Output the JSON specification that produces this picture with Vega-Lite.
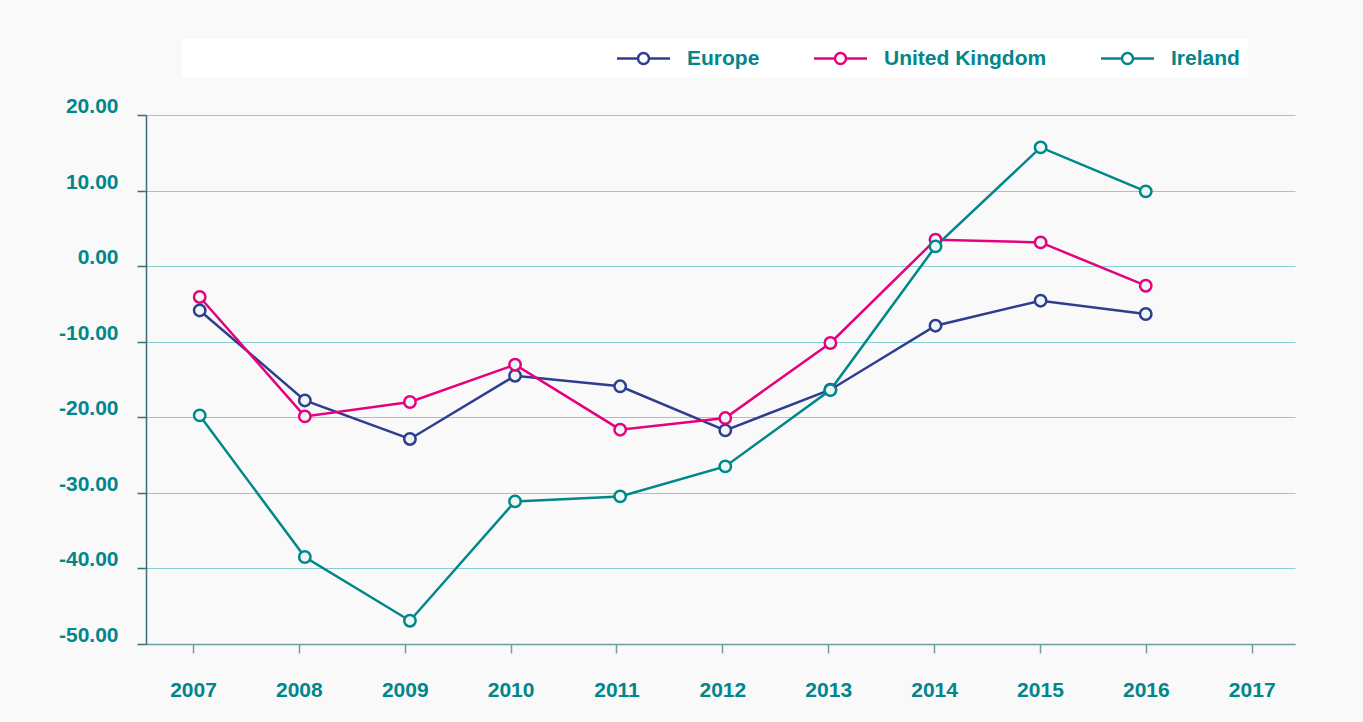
{
  "$schema": "https://vega.github.io/schema/vega-lite/v6.json",
  "width": 1149,
  "height": 529,
  "autosize": {"type": "none"},
  "padding": {"left": 146, "top": 115, "right": 68, "bottom": 78},
  "background": "#f9f9f9",
  "config": {
    "view": {"stroke": null},
    "font": "Liberation Sans",
    "locale": {"number": {"decimal": ".", "thousands": ",", "grouping": [3], "currency": ["$", ""], "minus": "-"}}
  },
  "data": {
    "values": [
      {"year": 2007, "region": "Europe", "value": -5.86},
      {"year": 2008, "region": "Europe", "value": -17.77},
      {"year": 2009, "region": "Europe", "value": -22.87},
      {"year": 2010, "region": "Europe", "value": -14.5},
      {"year": 2011, "region": "Europe", "value": -15.9},
      {"year": 2012, "region": "Europe", "value": -21.73},
      {"year": 2013, "region": "Europe", "value": -16.35},
      {"year": 2014, "region": "Europe", "value": -7.88},
      {"year": 2015, "region": "Europe", "value": -4.57},
      {"year": 2016, "region": "Europe", "value": -6.33},
      {"year": 2007, "region": "United Kingdom", "value": -4.08},
      {"year": 2008, "region": "United Kingdom", "value": -19.88},
      {"year": 2009, "region": "United Kingdom", "value": -17.98},
      {"year": 2010, "region": "United Kingdom", "value": -13.04},
      {"year": 2011, "region": "United Kingdom", "value": -21.64},
      {"year": 2012, "region": "United Kingdom", "value": -20.1},
      {"year": 2013, "region": "United Kingdom", "value": -10.17},
      {"year": 2014, "region": "United Kingdom", "value": 3.5},
      {"year": 2015, "region": "United Kingdom", "value": 3.14},
      {"year": 2016, "region": "United Kingdom", "value": -2.59},
      {"year": 2007, "region": "Ireland", "value": -19.75},
      {"year": 2008, "region": "Ireland", "value": -38.49},
      {"year": 2009, "region": "Ireland", "value": -46.92},
      {"year": 2010, "region": "Ireland", "value": -31.13},
      {"year": 2011, "region": "Ireland", "value": -30.47},
      {"year": 2012, "region": "Ireland", "value": -26.5},
      {"year": 2013, "region": "Ireland", "value": -16.4},
      {"year": 2014, "region": "Ireland", "value": 2.61},
      {"year": 2015, "region": "Ireland", "value": 15.71},
      {"year": 2016, "region": "Ireland", "value": 9.9}
    ]
  },
  "layer": [
    {
      "mark": {"type": "point", "opacity": 0},
      "encoding": {
        "x": {
          "field": "year",
          "type": "quantitative",
          "scale": {"domain": [2006.556, 2017.409], "nice": false, "zero": false},
          "axis": {
            "values": [2007, 2008, 2009, 2010, 2011, 2012, 2013, 2014, 2015, 2016, 2017],
            "format": "d",
            "grid": false,
            "title": null,
            "domainColor": "#6f9da2",
            "domainWidth": 1.5,
            "tickColor": "#6f9da2",
            "tickWidth": 1.5,
            "tickSize": 9,
            "labelColor": "#00868b",
            "labelFont": "Liberation Sans",
            "labelFontSize": 21,
            "labelFontWeight": "bold",
            "labelPadding": 26,
            "labelFlush": false,
            "labelOverlap": false
          }
        }
      }
    },
    {
      "mark": {"type": "line", "strokeWidth": 2.5},
      "encoding": {
        "x": {
          "field": "year",
          "type": "quantitative",
          "scale": {"domain": [2006.489, 2017.42], "nice": false, "zero": false},
          "axis": null
        },
        "y": {
          "field": "value",
          "type": "quantitative",
          "scale": {"domain": [-50, 20], "nice": false, "zero": false},
          "axis": {
            "values": [-50, -40, -30, -20, -10, 0, 10, 20],
            "format": ".2f",
            "title": null,
            "grid": true,
            "gridColor": "#88cfcf",
            "gridWidth": 1.2,
            "domainColor": "#3e6e73",
            "domainWidth": 1.5,
            "tickColor": "#3e6e73",
            "tickWidth": 1.5,
            "tickSize": 9,
            "labelColor": "#00868b",
            "labelFont": "Liberation Sans",
            "labelFontSize": 21,
            "labelFontWeight": "bold",
            "labelPadding": 19,
            "labelBaseline": "alphabetic",
            "labelOffset": -2.5,
            "labelOverlap": false,
            "labelFlush": false
          }
        },
        "stroke": {
          "field": "region",
          "type": "nominal",
          "sort": ["Europe", "United Kingdom", "Ireland"],
          "scale": {
            "domain": ["Europe", "United Kingdom", "Ireland"],
            "range": ["#2e3d8f", "#e5007e", "#00878a"]
          },
          "legend": {
            "orient": "none",
            "legendX": 36,
            "legendY": -76,
            "direction": "horizontal",
            "fillColor": "#ffffff",
            "padding": 8,
            "title": "\u2800\u2800\u2800\u2800\u2800\u2800\u2800\u2800\u2800\u2800\u2800\u2800\u2800\u2800\u2800\u2800\u2800\u2800\u2800\u2800\u2800\u2800\u2800\u2800\u2800\u2800\u2800\u2800\u2800",
            "titleOrient": "left",
            "titleLimit": 1000,
            "titlePadding": 7,
            "titleColor": "#ffffff",
            "titleFont": "Liberation Sans",
            "titleFontSize": 21,
            "symbolType": "M-2.65,0L-0.55,0M0.55,0L2.65,0M-0.55,0A0.55,0.55,0,1,1,0.55,0A0.55,0.55,0,1,1,-0.55,0Z",
            "symbolSize": 400,
            "symbolStrokeWidth": 2.5,
            "symbolFillColor": "#ffffff",
            "labelColor": "#00868b",
            "labelFont": "Liberation Sans",
            "labelFontSize": 21,
            "labelFontWeight": "bold",
            "labelOffset": 32,
            "labelLimit": 400,
            "columnPadding": 49,
            "encode": {
              "symbols": {"update": {"fill": {"value": "#ffffff"}, "strokeWidth": {"value": 2.5}, "opacity": {"value": 1}}}
            }
          }
        }
      }
    },
    {
      "mark": {"type": "point", "filled": true, "fill": "#eef6f6", "size": 130, "strokeWidth": 2.5, "opacity": 1},
      "encoding": {
        "x": {
          "field": "year",
          "type": "quantitative",
          "scale": {"domain": [2006.489, 2017.42], "nice": false, "zero": false},
          "axis": null
        },
        "y": {
          "field": "value",
          "type": "quantitative",
          "scale": {"domain": [-50, 20], "nice": false, "zero": false}
        },
        "stroke": {
          "field": "region",
          "type": "nominal",
          "sort": ["Europe", "United Kingdom", "Ireland"]
        }
      }
    }
  ],
  "resolve": {"scale": {"x": "independent"}}
}
